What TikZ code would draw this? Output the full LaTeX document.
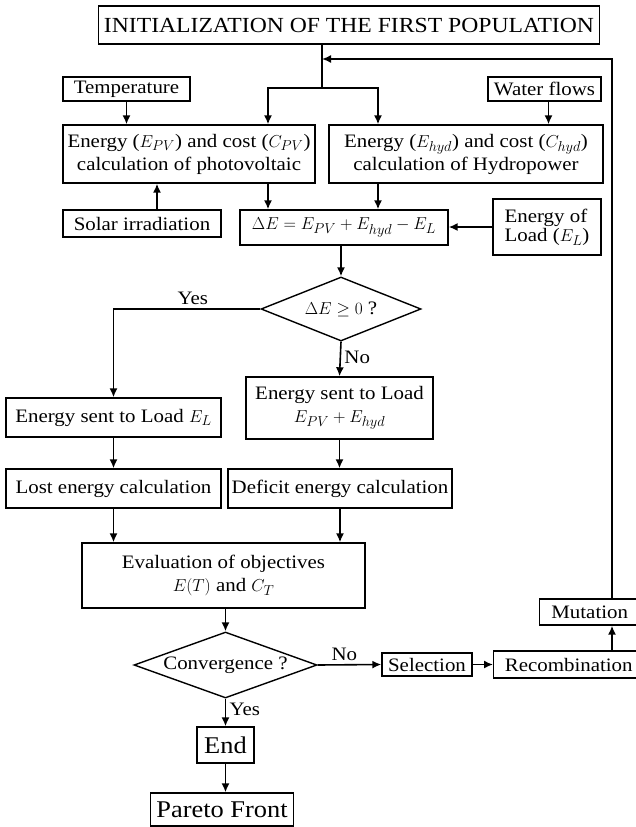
\documentclass[tikz,border=0pt]{standalone}
\usepackage{fontspec}
\setmainfont{Liberation Serif}[FakeStretch=1.1]
\usetikzlibrary{positioning,shapes.geometric,arrows.meta}

\begin{document}
\begin{tikzpicture}[x=1pt, y=-1pt, line width=1.6pt, >={Latex[length=9pt,width=8pt]}, ->, font=\fontsize{19}{23}\selectfont,
	box/.style={draw, rectangle, align=center, inner sep=2pt, line width=1.4pt},
	test/.style={draw, diamond, align=center, inner sep=0pt, line width=1.4pt},
	big/.style={font=\fontsize{24}{28}\selectfont}]
	\useasboundingbox (0,0) rectangle (635,827);
	\node[box, minimum width=501, minimum height=38, inner sep=1pt, font=\fontsize{21.5}{25}\selectfont] (title) at (349,25) {INITIALIZATION OF THE FIRST POPULATION};
	\node[box, minimum width=127, minimum height=24] (temp) at (126.5,89) {Temperature};
	\node[box, minimum width=113, minimum height=24] (water) at (544.5,89) {Water flows};
	\node[box, minimum width=252, minimum height=58] (pv) at (189,154) {Energy ($E_{PV}$) and cost ($C_{PV}$)\\calculation of photovoltaic};
	\node[box, minimum width=274, minimum height=58] (hyd) at (466,154) {Energy ($E_{hyd}$) and cost ($C_{hyd}$)\\calculation of Hydropower};
	\node[box, minimum width=158, minimum height=27] (solar) at (142,223.5) {Solar irradiation};
	\node[box, minimum width=208, minimum height=35] (dE) at (344,227.5) {$\Delta E = E_{PV} + E_{hyd} - E_L$};
	\node[box, minimum width=108, minimum height=56, align=left] (load) at (547,227) {Energy of\\[-4pt]Load ($E_L$)};
	\node[test, aspect=2.5, minimum width=160, minimum height=64] (d1) at (341,309) {$\Delta E \geq 0$ ?};
	\node[box, minimum width=215, minimum height=39] (sentL) at (113.5,417.5) {Energy sent to Load $E_L$};
	\node[box, minimum width=187, minimum height=62] (sentB) at (339.5,408) {Energy sent to Load\\$E_{PV} + E_{hyd}$};
	\node[box, minimum width=215, minimum height=39] (lost) at (113.5,488.5) {Lost energy calculation};
	\node[box, minimum width=224, minimum height=39] (deficit) at (340,488.5) {Deficit energy calculation};
	\node[box, minimum width=283, minimum height=65] (eval) at (223.5,575.5) {Evaluation of objectives\\$E(T)$ and $C_T$};
	\node[test, aspect=2.77, minimum width=183, minimum height=66] (conv) at (225.5,665) {Convergence ?};
	\node[box, minimum width=90, minimum height=23] (sel) at (427,664.5) {Selection};
	\node[box, minimum width=150, minimum height=27, anchor=west] (rec) at (493,664.5) {Recombination};
	\node[box, minimum width=100, minimum height=26, anchor=west] (mut) at (539,612) {Mutation};
	\node[box, big, minimum width=57, minimum height=36] (endn) at (225.5,745) {End};
	\node[box, big, minimum width=143, minimum height=33] (pareto) at (222,809.5) {Pareto Front};
	\coordinate (br) at (322,88);
	\coordinate (c1) at (268,88);
	\coordinate (c2) at (378,88);
	\coordinate (rt) at (612,59);
	\draw (title.south -| br) -- (br) -| (pv.north -| c1);
	\draw (br) -| (hyd.north -| c2);
	\draw (temp.south) -- (temp.south |- pv.north);
	\draw ([xshift=4pt]water.south) -- ([xshift=4pt]water.south |- hyd.north);
	\draw ([xshift=15pt]solar.north) -- ([xshift=15pt]solar.north |- pv.south);
	\draw (pv.south -| c1) -- (dE.north -| c1);
	\draw (hyd.south -| c2) -- (dE.north -| c2);
	\draw (load.west) -- (load.west -| dE.east);
	\draw (dE.south -| d1.north) -- (d1.north);
	\draw (d1.west) -| node[pos=0.23, above] {Yes} (sentL.north);
	\draw (d1.south) -- node[pos=0.45, right] {No} (sentB.north);
	\draw (sentL) -- (lost);
	\draw (sentB.south) -- (sentB.south |- deficit.north);
	\draw (lost.south) -- (lost.south |- eval.north);
	\draw (deficit.south) -- (deficit.south |- eval.north);
	\draw (eval.south -| conv.north) -- (conv.north);
	\draw (conv.east) -- node[pos=0.42, above] {No} (sel.west);
	\draw (sel.east) -- (sel.east -| rec.west);
	\draw (rec.north -| rt) -- (mut.south -| rt);
	\draw (mut.north -| rt) -- (rt) -- (rt -| br);
	\draw (conv.south) -- node[pos=0.4, right] {Yes} (endn.north);
	\draw (endn.south) -- (endn.south |- pareto.north);
\end{tikzpicture}
\end{document}
